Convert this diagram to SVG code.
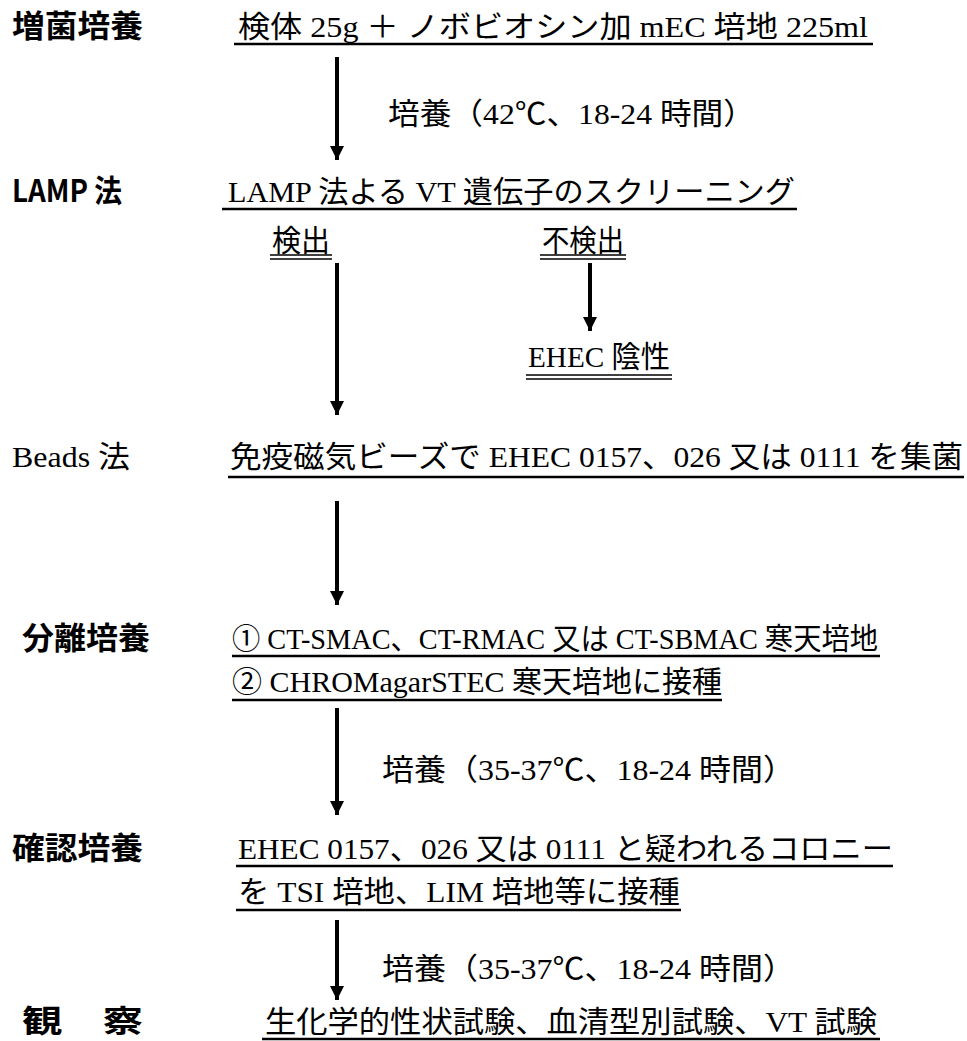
<svg xmlns="http://www.w3.org/2000/svg" width="967" height="1041" viewBox="0 0 967 1041">
<style>
.hd{font-family:"Noto Sans CJK JP","Liberation Sans",sans-serif;font-size:31px;font-weight:bold;fill:#000}
.hs{font-family:"Liberation Serif","Noto Sans CJK JP",serif;font-size:30px;fill:#000}
.tx{font-family:"Liberation Serif","Noto Sans CJK JP",serif;font-size:30px;fill:#000}
.ul{stroke:#000;stroke-width:2.5;fill:none}
.ul2{stroke:#000;stroke-width:1.6;fill:none}
.ar{stroke:#000;stroke-width:4;fill:none}
</style>
<defs>
<marker id="ah" viewBox="0 0 10 10" refX="10" refY="5" markerUnits="userSpaceOnUse" markerWidth="14" markerHeight="24" orient="auto">
<path d="M0,0 L10,5 L0,10 Z" fill="#000"/>
</marker>
</defs>
<rect width="967" height="1041" fill="#fff"/>
<g id="connectors">
<line class="ar" x1="337" y1="57" x2="337" y2="160" marker-end="url(#ah)"/>
<line class="ar" x1="337" y1="263" x2="337" y2="415" marker-end="url(#ah)"/>
<line class="ar" x1="590" y1="263" x2="590" y2="331" marker-end="url(#ah)"/>
<line class="ar" x1="337" y1="501" x2="337" y2="605" marker-end="url(#ah)"/>
<line class="ar" x1="337" y1="708" x2="337" y2="815" marker-end="url(#ah)"/>
<line class="ar" x1="337" y1="920" x2="337" y2="1000" marker-end="url(#ah)"/>
</g>
<g id="label-zoukin"><text class="hd" x="12" y="37" textLength="131" lengthAdjust="spacingAndGlyphs">増菌培養</text></g>
<g id="node-sample">
<text class="tx" x="238" y="37" textLength="630" lengthAdjust="spacingAndGlyphs">検体 25g ＋ ノボビオシン加 mEC 培地 225ml</text>
<line class="ul" x1="234" y1="44" x2="873" y2="44"/>
</g>
<g id="edge-label-1"><text class="tx" x="388" y="124" textLength="367" lengthAdjust="spacingAndGlyphs">培養（42℃、18-24 時間）</text></g>
<g id="label-lamp"><text class="hd" x="12" y="202" textLength="110" lengthAdjust="spacingAndGlyphs">LAMP 法</text></g>
<g id="node-lamp">
<text class="tx" x="228" y="202" textLength="567" lengthAdjust="spacingAndGlyphs">LAMP 法よる VT 遺伝子のスクリーニング</text>
<line class="ul" x1="222" y1="209" x2="797" y2="209"/>
</g>
<g id="node-detected">
<text class="tx" x="272" y="251" textLength="58" lengthAdjust="spacingAndGlyphs">検出</text>
<line class="ul2" x1="270" y1="255" x2="332" y2="255"/>
<line class="ul2" x1="270" y1="259" x2="332" y2="259"/>
</g>
<g id="node-notdetected">
<text class="tx" x="542" y="251" textLength="82" lengthAdjust="spacingAndGlyphs">不検出</text>
<line class="ul2" x1="540" y1="255" x2="626" y2="255"/>
<line class="ul2" x1="540" y1="259" x2="626" y2="259"/>
</g>
<g id="node-negative">
<text class="tx" x="528" y="367" textLength="142" lengthAdjust="spacingAndGlyphs">EHEC 陰性</text>
<line class="ul2" x1="526" y1="375" x2="672" y2="375"/>
<line class="ul2" x1="526" y1="379" x2="672" y2="379"/>
</g>
<g id="label-beads"><text class="hs" x="12" y="467" textLength="118" lengthAdjust="spacingAndGlyphs">Beads 法</text></g>
<g id="node-beads">
<text class="tx" x="230" y="467" textLength="733" lengthAdjust="spacingAndGlyphs">免疫磁気ビーズで EHEC 0157、026 又は 0111 を集菌</text>
<line class="ul" x1="228" y1="477" x2="964" y2="477"/>
</g>
<g id="label-bunri"><text class="hd" x="22" y="649" textLength="128" lengthAdjust="spacingAndGlyphs">分離培養</text></g>
<g id="node-bunri">
<text class="tx" x="232" y="649" textLength="646" lengthAdjust="spacingAndGlyphs">① CT-SMAC、CT-RMAC 又は CT-SBMAC 寒天培地</text>
<line class="ul" x1="232" y1="656" x2="880" y2="656"/>
<text class="tx" x="232" y="692" textLength="490" lengthAdjust="spacingAndGlyphs">② CHROMagarSTEC 寒天培地に接種</text>
<line class="ul" x1="232" y1="700" x2="722" y2="700"/>
</g>
<g id="edge-label-2"><text class="tx" x="382" y="780" textLength="413" lengthAdjust="spacingAndGlyphs">培養（35-37℃、18-24 時間）</text></g>
<g id="label-kakunin"><text class="hd" x="12" y="859" textLength="131" lengthAdjust="spacingAndGlyphs">確認培養</text></g>
<g id="node-kakunin">
<text class="tx" x="238" y="859" textLength="655" lengthAdjust="spacingAndGlyphs">EHEC 0157、026 又は 0111 と疑われるコロニー</text>
<line class="ul" x1="236" y1="866" x2="893" y2="866"/>
<text class="tx" x="238" y="902" textLength="442" lengthAdjust="spacingAndGlyphs">を TSI 培地、LIM 培地等に接種</text>
<line class="ul" x1="236" y1="910" x2="681" y2="910"/>
</g>
<g id="edge-label-3"><text class="tx" x="382" y="979" textLength="413" lengthAdjust="spacingAndGlyphs">培養（35-37℃、18-24 時間）</text></g>
<g id="label-kansatsu"><text class="hd" x="22" y="1032" textLength="121" lengthAdjust="spacingAndGlyphs">観　察</text></g>
<g id="node-kansatsu">
<text class="tx" x="265" y="1032" textLength="612" lengthAdjust="spacingAndGlyphs">生化学的性状試験、血清型別試験、VT 試験</text>
<line class="ul" x1="262" y1="1039" x2="880" y2="1039"/>
</g>
</svg>
